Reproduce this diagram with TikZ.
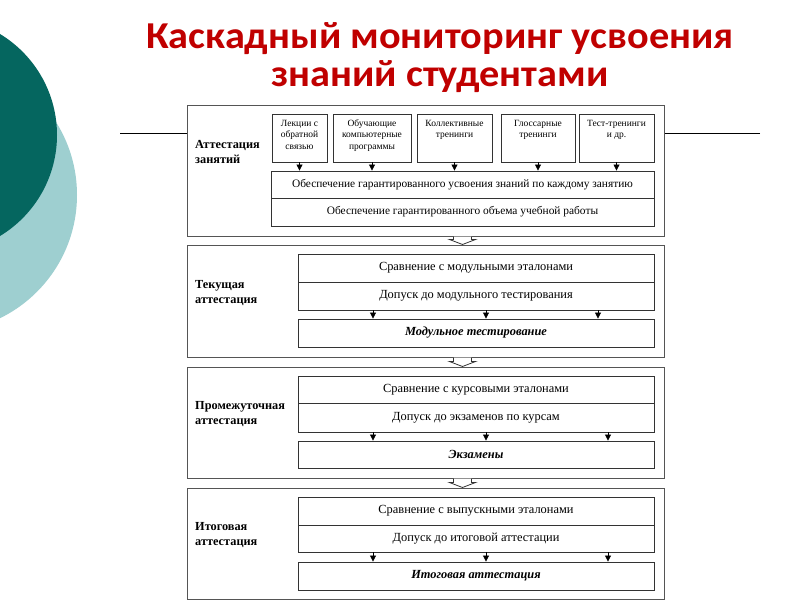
\documentclass[tikz,border=0pt]{standalone}
\usepackage{fontspec}
\setmainfont{Liberation Serif}
\newfontfamily\titlefont[FakeStretch=1.06]{Carlito}
\usetikzlibrary{arrows.meta,calc}
\definecolor{titlered}{HTML}{C00000}
\definecolor{darkteal}{HTML}{05665F}
\definecolor{lightteal}{HTML}{9ECFD0}
\definecolor{framegray}{HTML}{555555}
\definecolor{boxgray}{HTML}{333333}
\begin{document}
\begin{tikzpicture}[x=1pt,y=-1pt,
  frame/.style={draw=framegray, line width=1pt, inner sep=0pt},
  box/.style={draw=boxgray, line width=0.9pt, inner sep=0pt, align=center, font=\fontsize{12.4}{14}\selectfont},
  wbox/.style={box, font=\fontsize{11.4}{13}\selectfont},
  sbox/.style={draw=boxgray, line width=0.9pt, inner sep=0pt, align=center, font=\fontsize{9.5}{11.5}\selectfont},
  lbl/.style={inner sep=0pt, anchor=west, align=left, font=\bfseries\fontsize{12.3}{14.5}\selectfont},
  arr/.style={-{Triangle[length=6pt,width=6pt]}, line width=0.8pt, draw=black},
  blk/.style={draw=boxgray, line width=0.8pt, fill=white, line join=miter},
  title/.style={text=titlered, anchor=base, inner sep=0pt, font=\titlefont\bfseries\fontsize{38}{40}\selectfont}
]
\useasboundingbox (0,0) rectangle (800,600);
\fill[white] (0,0) rectangle (800,600);
% decorative circles
\begin{scope}
\clip (0,0) rectangle (800,600);
\fill[lightteal] (-60,195) circle[radius=137];
\fill[darkteal] (-61,135) circle[radius=118];
\end{scope}
% title
\node[title] (T1) at (440,48) {Каскадный мониторинг усвоения};
\node[title] (T2) at (440,86) {знаний студентами};
% big frames
\node[frame, minimum width=477, minimum height=131] (B1) at (425.5,170.5) {};
\node[frame, minimum width=477, minimum height=112] (B2) at (425.5,301) {};
\node[frame, minimum width=477, minimum height=111] (B3) at (425.5,422.5) {};
\node[frame, minimum width=477, minimum height=111] (B4) at (425.5,543.5) {};
% side lines
\coordinate (hl) at (120,133);
\coordinate (hr) at (760,133);
\draw[line width=1pt] (hl) -- (hl -| B1.west);
\draw[line width=1pt] (hr) -- (hr -| B1.east);
% labels
\node[lbl] (L1) at (195,152) {Аттестация\\занятий};
\node[lbl] (L2) at (195,293) {Текущая\\аттестация};
\node[lbl] (L3) at (195,414) {Промежуточная\\аттестация};
\node[lbl] (L4) at (195,535) {Итоговая\\аттестация};
% block 1
\node[sbox, minimum width=55, minimum height=48] (s1) at (299.5,138) {\parbox[c][40pt][t]{54pt}{\centering\strut Лекции с\\обратной\\связью}};
\node[sbox, minimum width=78, minimum height=48] (s2) at (372,138) {\parbox[c][40pt][t]{76pt}{\centering\strut Обучающие\\компьютерные\\программы}};
\node[sbox, minimum width=75, minimum height=48] (s3) at (454.5,138) {\parbox[c][40pt][t]{74pt}{\centering\strut Коллективные\\тренинги}};
\node[sbox, minimum width=74, minimum height=48] (s4) at (538,138) {\parbox[c][40pt][t]{72pt}{\centering\strut Глоссарные\\тренинги}};
\node[sbox, minimum width=75, minimum height=48] (s5) at (616.5,138) {\parbox[c][40pt][t]{74pt}{\centering\strut Тест-тренинги\\и др.}};
\node[wbox, minimum width=383, minimum height=27] (w1) at (462.5,184.5) {Обеспечение гарантированного усвоения знаний по каждому занятию};
\node[wbox, minimum width=383, minimum height=28] (w2) at (462.5,212) {Обеспечение гарантированного объема учебной работы};
\foreach \s in {s1,s2,s3,s4,s5} \draw[arr] (\s.south) -- (\s.south |- w1.north);
% block 2
\node[box, minimum width=356, minimum height=28] (a1) at (476,268) {Сравнение с модульными эталонами};
\node[box, minimum width=356, minimum height=28] (a2) at (476,296) {Допуск до модульного тестирования};
\node[box, minimum width=356, minimum height=28] (a3) at (476,333) {\textbf{\textit{Модульное тестирование}}};
\foreach \d in {-103,10,122} \draw[arr] ([xshift=\d pt]a2.south) -- ([xshift=\d pt]a3.north);
% block 3
\node[box, minimum width=356, minimum height=27] (b1) at (476,389.5) {Сравнение с курсовыми эталонами};
\node[box, minimum width=356, minimum height=29] (b2) at (476,417.5) {Допуск до экзаменов по курсам};
\node[box, minimum width=356, minimum height=27] (b3) at (476,454.5) {\textbf{\textit{Экзамены}}};
\foreach \d in {-103,10,132} \draw[arr] ([xshift=\d pt]b2.south) -- ([xshift=\d pt]b3.north);
% block 4
\node[box, minimum width=356, minimum height=28] (c1) at (476,511) {Сравнение с выпускными эталонами};
\node[box, minimum width=356, minimum height=27] (c2) at (476,538.5) {Допуск до итоговой аттестации};
\node[box, minimum width=356, minimum height=28] (c3) at (476,576) {\textbf{\textit{Итоговая аттестация}}};
\foreach \d in {-103,10,132} \draw[arr] ([xshift=\d pt]c2.south) -- ([xshift=\d pt]c3.north);
% block arrows between frames
\foreach \u/\v in {B1/B2,B2/B3,B3/B4}
  \draw[blk] ($(\u.south -| w2.south)+(-9,0)$) -- ($(\v.north -| w2.south)+(-9,-5)$) -- ++(-4,0)
    -- (\v.north -| w2.south) -- ++(13,-5) -- ++(-4,0) -- ($(\u.south -| w2.south)+(9,0)$);
\end{tikzpicture}
\end{document}
